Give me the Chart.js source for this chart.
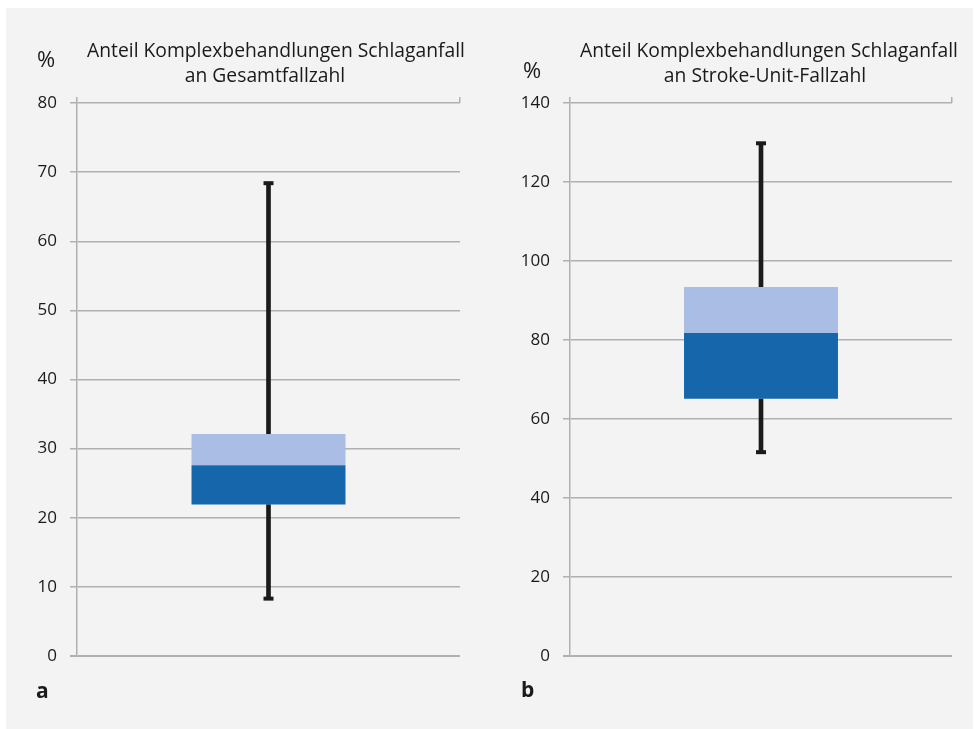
<!DOCTYPE html>
<html lang="de">
<head>
<meta charset="utf-8">
<title>Anteil Komplexbehandlungen Schlaganfall</title>
<script src="https://cdn.jsdelivr.net/npm/chart.js@4/dist/chart.umd.min.js"></script>
<style>
  html, body { margin: 0; padding: 0; background: #ffffff; }
  body { width: 976px; height: 729px; position: relative; overflow: hidden;
         font-family: 'Open Sans', sans-serif; color: #1a1a1a; }
  #panel { position: absolute; left: 6px; top: 8px; width: 967px; height: 721px; background: #f3f3f3; }
  canvas { position: absolute; top: 0; }
  .t { position: absolute; font-size: 19.3px; line-height: 19.3px; white-space: nowrap; transform: translateX(-50%); }
  .pc { position: absolute; font-size: 22px; line-height: 22px; transform: translateX(-50%); }
  .lbl { position: absolute; font-size: 21px; line-height: 21px; font-weight: bold; }
</style>
</head>
<body>
<div id="panel"></div>
<canvas id="chartA" width="488" height="729" style="left:0px"></canvas>
<canvas id="chartB" width="488" height="729" style="left:488px"></canvas>

<div class="t" style="left:276px; top:40px">Anteil Komplexbehandlungen Schlaganfall</div>
<div class="t" style="left:265px; top:65px">an Gesamtfallzahl</div>
<div class="pc" style="left:46px; top:47px">%</div>
<div class="lbl" style="left:36px; top:680px">a</div>

<div class="t" style="left:769px; top:40px">Anteil Komplexbehandlungen Schlaganfall</div>
<div class="t" style="left:765px; top:65px">an Stroke-Unit-Fallzahl</div>
<div class="pc" style="left:532px; top:58px">%</div>
<div class="lbl" style="left:521px; top:679px">b</div>

<script>
// Panel a: share of stroke complex treatments in the total case count (%)
const categoriesA = ['Gesamtfallzahl'];
const minA    = [8.3];
const q1A     = [21.9];
const medianA = [27.6];
const q3A     = [32.1];
const maxA    = [68.4];
const yTicksA = { min: 0, max: 80, step: 10 };

// Panel b: share of stroke complex treatments in the stroke-unit case count (%)
const categoriesB = ['Stroke-Unit-Fallzahl'];
const minB    = [51.6];
const q1B     = [65.1];
const medianB = [81.8];
const q3B     = [93.4];
const maxB    = [129.8];
const yTicksB = { min: 0, max: 140, step: 20 };

const DARK_BLUE  = '#1566aa';
const LIGHT_BLUE = '#aabde4';
const WHISKER    = '#1a1a1a';
const GRID       = '#b0b0b0';

Chart.defaults.font.family = "'Open Sans', sans-serif";
Chart.defaults.font.size = 17;
Chart.defaults.color = '#1a1a1a';

function boxChart(canvasId, cats, mins, q1s, meds, q3s, maxs, yt, axisWidth, padRight, boxPct) {
  const caps = [];
  cats.forEach((c, i) => {
    caps.push({ x: c, y: maxs[i] });
    caps.push({ x: c, y: mins[i] });
  });
  const whisker = { grouped: false, barThickness: 4, backgroundColor: WHISKER, order: 3 };
  return new Chart(document.getElementById(canvasId), {
    type: 'bar',
    data: {
      labels: cats,
      datasets: [
        { // lower half of the box: Q1 to median
          label: 'Q1–Median',
          data: q1s.map((q, i) => [q, meds[i]]),
          backgroundColor: DARK_BLUE,
          grouped: false, categoryPercentage: 1, barPercentage: boxPct,
          order: 0
        },
        { // upper half of the box: median to Q3
          label: 'Median–Q3',
          data: meds.map((m, i) => [m, q3s[i]]),
          backgroundColor: LIGHT_BLUE,
          grouped: false, categoryPercentage: 1, barPercentage: boxPct,
          order: 0
        },
        Object.assign({ label: 'Min–Q1', data: mins.map((m, i) => [m, q1s[i]]) }, whisker),
        Object.assign({ label: 'Q3–Max', data: q3s.map((q, i) => [q, maxs[i]]) }, whisker),
        { // whisker end caps
          type: 'line',
          label: 'Caps',
          data: caps,
          showLine: false,
          pointStyle: 'line',
          pointRadius: 5,
          pointHoverRadius: 5,
          pointBorderWidth: 4,
          borderColor: WHISKER,
          backgroundColor: WHISKER,
          order: 2
        }
      ]
    },
    options: {
      responsive: false,
      animation: false,
      events: [],
      layout: { padding: { top: 97, right: padRight, bottom: 73, left: 0 } },
      plugins: { legend: { display: false }, tooltip: { enabled: false }, title: { display: false } },
      scales: {
        x: { display: false, offset: true },
        xTop: {
          type: 'category', position: 'top', offset: true,
          grid: { drawOnChartArea: false, offset: true, tickLength: 6, color: GRID, lineWidth: 1.5 },
          ticks: { display: false },
          border: { display: false }
        },
        y: {
          min: yt.min, max: yt.max,
          ticks: { stepSize: yt.step, padding: 13, color: '#1a1a1a' },
          grid: {
            color: GRID,
            lineWidth: c => (c.tick && c.tick.value === 0 ? 2 : 1.5),
            tickLength: 7
          },
          border: { display: true, color: GRID, width: 1.5 },
          afterFit: s => { s.width = axisWidth; }
        }
      }
    }
  });
}

boxChart('chartA', categoriesA, minA, q1A, medianA, q3A, maxA, yTicksA, 77, 28, 0.402);
boxChart('chartB', categoriesB, minB, q1B, medianB, q3B, maxB, yTicksB, 82, 24, 0.403);
</script>
</body>
</html>
